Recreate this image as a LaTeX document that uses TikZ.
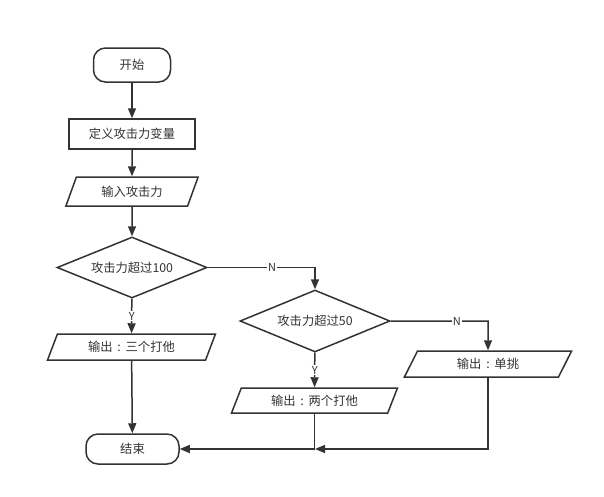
\documentclass[tikz,border=0pt]{standalone}
\usepackage{fontspec}
\setmainfont{Noto Sans CJK SC}
\usetikzlibrary{shapes.geometric,arrows.meta}
\definecolor{ink}{HTML}{333333}
\newcommand{\mycolon}{\makebox[13pt]{:}}
\tikzset{
  base/.style={draw=ink, line width=1.5pt, text=ink, font=\fontsize{12.3}{14}\selectfont, inner sep=0pt},
  term/.style={base, rectangle, rounded corners=12pt},
  proc/.style={base, rectangle},
  io/.style={base, trapezium, trapezium left angle=63, trapezium right angle=117, trapezium stretches=true},
  dec/.style={base, diamond, aspect=2.4},
  conn/.style={draw=ink, line width=1.5pt, -{Triangle[length=10pt,width=8pt]}},
  lbl/.style={fill=white, text=ink, font=\fontsize{11}{12}\selectfont, inner sep=1pt}
}
\begin{document}
\begin{tikzpicture}[x=1pt,y=1pt]
\useasboundingbox (0,0) rectangle (604,-496);
\fill[white] (0,0) rectangle (604,-496);
\node[term, minimum width=77, minimum height=34] (start) at (132,-65) {开始};
\node[proc, minimum width=126, minimum height=30] (def) at (132,-134) {定义攻击力变量};
\node[io, minimum width=133, minimum height=29] (inp) at (132,-191.5) {输入攻击力};
\node[dec, minimum width=150, minimum height=61] (d1) at (132,-267.5) {攻击力超过100};
\node[io, minimum width=169, minimum height=26] (o1) at (131.5,-347) {输出\mycolon 三个打他};
\node[term, minimum width=93, minimum height=30] (end) at (132.5,-449) {结束};
\node[dec, minimum width=150, minimum height=62] (d2) at (315,-321) {攻击力超过50};
\node[io, minimum width=167, minimum height=25] (o2) at (314.5,-400.5) {输出\mycolon 两个打他};
\node[io, minimum width=168, minimum height=26] (o3) at (488,-364) {输出\mycolon 单挑};
\coordinate (j) at (315,-449);

\draw[conn] (start) -- (def);
\draw[conn] (def) -- (inp);
\draw[conn] (inp) -- (d1);
\draw[conn] (d1) -- node[lbl, pos=0.5] {Y} (o1);
\draw[conn] (o1) -- (end);
\draw[conn] (d1.east) -- (315,-267.5) node[lbl, pos=0.6] {N} -- (d2.north);
\draw[conn] (d2) -- node[lbl, pos=0.5] {Y} (o2);
\draw[conn] (d2.east) -- (488,-321) node[lbl, pos=0.68] {N} -- (o3.north);
\draw[conn] (o2.south) |- (end.east);
\draw[conn] (o3.south) |- (j);
\end{tikzpicture}
\end{document}
